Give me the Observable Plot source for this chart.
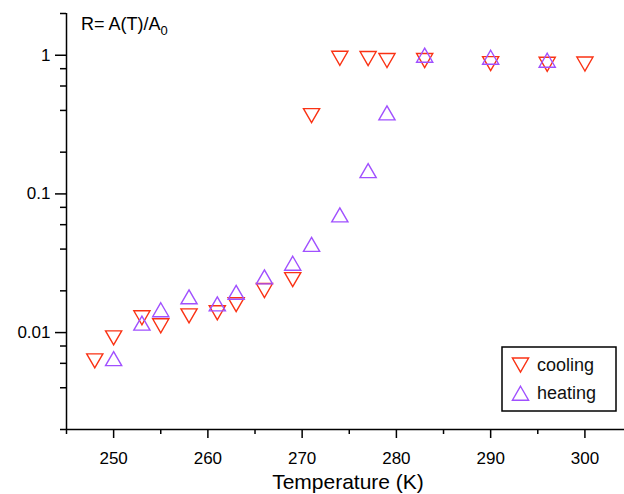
<!DOCTYPE html>
<html>
<head>
<meta charset="utf-8">
<script src="https://cdn.jsdelivr.net/npm/d3@7"></script>
<script src="https://cdn.jsdelivr.net/npm/@observablehq/plot@0.6"></script>
<style>
  html, body { margin: 0; padding: 0; background: white; }
  svg { display: block; }
</style>
</head>
<body>
<div id="chart"></div>
<script>
// Data
const coolingT = [248, 250, 253, 255, 258, 261, 263, 266, 269, 271, 274, 277, 279, 283, 290, 296, 300];
const coolingR = [0.00625, 0.00916, 0.0128, 0.0112, 0.0132, 0.0139, 0.0159, 0.0201, 0.0241, 0.367, 0.951, 0.947, 0.917, 0.916, 0.871, 0.861, 0.865];
const heatingT = [250, 253, 255, 258, 261, 263, 266, 269, 271, 274, 277, 279, 283, 290, 296];
const heatingR = [0.00649, 0.0117, 0.0146, 0.0181, 0.0161, 0.0195, 0.0252, 0.0316, 0.0432, 0.0706, 0.147, 0.384, 1.0, 0.967, 0.92];

const xMajorTicks = [250, 260, 270, 280, 290, 300];
const xMinorTicks = [245, 255, 265, 275, 285, 295];
const yMajorTicks = [1, 0.1, 0.01];
const yMinorTicks = [2, 0.8, 0.6, 0.4, 0.2, 0.08, 0.06, 0.04, 0.02, 0.008, 0.006, 0.004, 0.002];
const yMajorLabels = ["1", "0.1", "0.01"];

const seriesNames = ["cooling", "heating"];
const seriesColors = ["#fa3214", "#a050ff"];

const cooling = coolingT.map((t, i) => ({T: t, R: coolingR[i]}));
const heating = heatingT.map((t, i) => ({T: t, R: heatingR[i]}));

const xDomain = [245, 304.2];
const yDomain = [0.002, 2];
const R = 6;            // symbol radius
const off = 2.3;        // centroid -> bbox-centre offset of the triangle

const chart = Plot.plot({
  width: 624,
  height: 494,
  marginLeft: 66,
  marginRight: 0,
  marginTop: 13,
  marginBottom: 65,
  style: {fontFamily: "'Liberation Sans', Arial, sans-serif", color: "#000", background: "white"},
  x: {domain: xDomain, label: null},
  y: {type: "log", domain: yDomain, label: null},
  marks: [
    Plot.axisX(xMinorTicks, {tickSize: 5, strokeWidth: 1.5, text: null, label: null}),
    Plot.axisX(xMajorTicks, {tickSize: 9, strokeWidth: 1.5, tickPadding: 13, fontSize: 17, tickFormat: d => String(d), label: null}),
    Plot.axisY(yMinorTicks, {tickSize: 6, strokeWidth: 1.5, text: null, label: null}),
    Plot.axisY(yMajorTicks, {tickSize: 11, strokeWidth: 1.5, tickPadding: 5, fontSize: 17,
      tickFormat: d => yMajorLabels[yMajorTicks.indexOf(d)], label: null}),
    Plot.ruleX([xDomain[0]], {y1: yDomain[0], y2: yDomain[1], strokeWidth: 1.5}),
    Plot.ruleY([yDomain[0]], {x1: xDomain[0], x2: xDomain[1], strokeWidth: 1.5}),
    Plot.dot(cooling, {x: "T", y: "R", symbol: "triangle", r: R, rotate: 180, dy: -off,
      stroke: seriesColors[0], strokeWidth: 1.4, fill: "none"}),
    Plot.dot(heating, {x: "T", y: "R", symbol: "triangle", r: R, dy: off,
      stroke: seriesColors[1], strokeWidth: 1.4, fill: "none"})
  ]
});

document.getElementById("chart").appendChild(chart);

const svg = d3.select(chart);
const font = "'Liberation Sans', Arial, sans-serif";

// Axis title
svg.append("text")
  .attr("x", 348).attr("y", 489)
  .attr("text-anchor", "middle")
  .attr("font-family", font).attr("font-size", 21).attr("fill", "#000")
  .text("Temperature (K)");

// Y label at the top-left
const rl = svg.append("text")
  .attr("x", 81).attr("y", 30)
  .attr("text-anchor", "start")
  .attr("font-family", font).attr("font-size", 18).attr("fill", "#000");
rl.append("tspan").text("R= A(T)/A");
rl.append("tspan").attr("font-size", 13).attr("dy", 5).text("0");

// Legend
svg.append("rect")
  .attr("x", 502).attr("y", 347).attr("width", 114).attr("height", 64)
  .attr("fill", "white").attr("stroke", "#000").attr("stroke-width", 1.5);
const sym = d3.symbol(d3.symbolTriangle, Math.PI * R * R)();
const legendRows = [{y: 365, rot: 180, dyc: -off}, {y: 393.3, rot: 0, dyc: off}];
legendRows.forEach((row, i) => {
  svg.append("path")
    .attr("d", sym)
    .attr("transform", `translate(520.5,${row.y + row.dyc}) rotate(${row.rot})`)
    .attr("fill", "none").attr("stroke", seriesColors[i]).attr("stroke-width", 1.4);
  svg.append("text")
    .attr("x", 537).attr("y", row.y + 6)
    .attr("text-anchor", "start")
    .attr("font-family", font).attr("font-size", 18).attr("fill", "#111")
    .text(seriesNames[i]);
});
</script>
</body>
</html>
